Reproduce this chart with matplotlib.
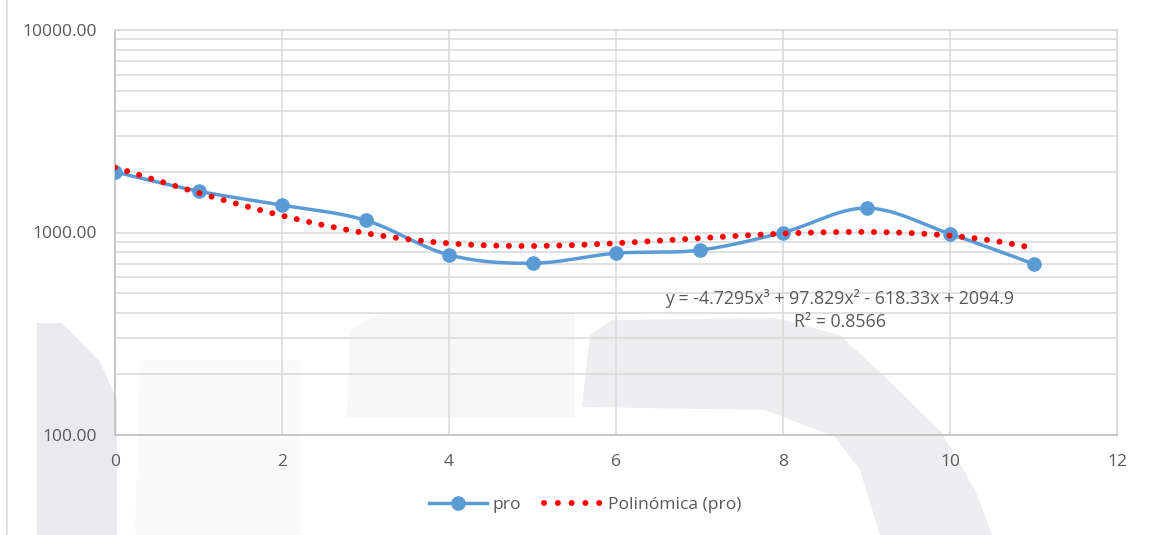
import numpy as np
import matplotlib
matplotlib.use("Agg")
import matplotlib.pyplot as plt
from matplotlib.patches import Polygon
from matplotlib.lines import Line2D

# measured series "pro"
x_pro = [0, 1, 2, 3, 4, 5, 6, 7, 8, 9, 10, 11]
y_pro = [1990, 1600, 1365, 1150, 775, 705, 790, 818, 1000, 1320, 985, 700]

# cubic trend fitted to "pro" (coefficients from highest power)
trend_coef = [-4.7295, 97.829, -618.33, 2094.9]
trend_r2 = 0.8566

x_ticks = [0, 2, 4, 6, 8, 10, 12]
y_ticks = [100, 1000, 10000]

BLUE = "#5B9BD5"
RED = "#FF0000"
GRID = "#D9D9D9"
TEXT = "#595959"
DOTS = (0, (0.01, 2.1))

plt.rcParams["font.family"] = ["Open Sans", "DejaVu Sans"]


def catmull_rom(xs, ys, n=30):
    # smooth curve through the points, like a spreadsheet "smoothed line"
    pts = np.column_stack([xs, ys]).astype(float)
    pts = np.vstack([pts[0], pts, pts[-1]])
    out = []
    for i in range(1, len(pts) - 2):
        p0, p1, p2, p3 = pts[i - 1], pts[i], pts[i + 1], pts[i + 2]
        t = np.linspace(0, 1, n, endpoint=False)[:, None]
        seg = 0.5 * ((2 * p1) + (-p0 + p2) * t
                     + (2 * p0 - 5 * p1 + 4 * p2 - p3) * t ** 2
                     + (-p0 + 3 * p1 - 3 * p2 + p3) * t ** 3)
        out.append(seg)
    out.append(pts[-2][None, :])
    return np.vstack(out)


fig = plt.figure(figsize=(11.51, 5.35), dpi=100)

# faint background shapes, pixel coordinates
bg = fig.add_axes([0, 0, 1, 1], zorder=0)
bg.set_xlim(0, 1151)
bg.set_ylim(535, 0)
bg.axis("off")
shapes = [
    ([(37, 535), (37, 323), (62, 323), (100, 362), (117, 400), (117, 535)], "#EAEAEE"),
    ([(347, 417), (350, 330), (380, 313), (575, 313), (575, 417)], "#F7F7F8"),
    ([(582, 407), (590, 335), (612, 320), (775, 318), (840, 335), (888, 380),
      (942, 433), (975, 490), (992, 535), (880, 535), (860, 470), (835, 437),
      (765, 410)], "#EEEEF1"),
    ([(135, 535), (140, 360), (300, 360), (300, 535)], "#FAFAFB"),
]
for verts, col in shapes:
    bg.add_patch(Polygon(verts, closed=True, facecolor=col, edgecolor="none"))
bg.plot([7, 7], [0, 535], color="#D9D9D9", lw=1.2)

ax = fig.add_axes([115 / 1151, 100 / 535, 1002 / 1151, 405 / 535], zorder=1)
ax.patch.set_alpha(0)
ax.set_yscale("log")
ax.set_xlim(0, 12)
ax.set_ylim(100, 10000)

ax.set_xticks(x_ticks)
ax.set_yticks(y_ticks)
ax.set_yticklabels([f"{v:.2f}" for v in y_ticks])
ax.yaxis.set_minor_locator(matplotlib.ticker.LogLocator(base=10, subs=np.arange(2, 10)))
ax.yaxis.set_minor_formatter(matplotlib.ticker.NullFormatter())
ax.tick_params(which="both", length=0, colors=TEXT, labelsize=12.5)
ax.tick_params(axis="x", pad=14)
ax.tick_params(axis="y", pad=13)

ax.grid(True, which="both", axis="y", color=GRID, lw=1.1)
ax.grid(True, which="major", axis="x", color=GRID, lw=1.1)
ax.set_axisbelow(True)
for name, sp in ax.spines.items():
    sp.set_color("#BFBFBF" if name in ("left", "bottom") else GRID)
    sp.set_linewidth(1.2)

# smoothed series, interpolated in log space
curve = catmull_rom(x_pro, np.log10(y_pro))
ax.plot(curve[:, 0], 10 ** curve[:, 1], color=BLUE, lw=2.5, zorder=3)
ax.plot(x_pro, y_pro, "o", color=BLUE, ms=9.5, zorder=4)

xt = np.linspace(x_pro[0], x_pro[-1], 400)
ax.plot(xt, np.polyval(trend_coef, xt), color=RED, lw=4.3,
        linestyle=DOTS, dash_capstyle="round", zorder=5)

a, b, c, d = trend_coef
eq = f"y = {a}x³ + {b}x² - {abs(c)}x + {d}\nR² = {trend_r2}"
ax.text(840, 310, eq, transform=bg.transData, ha="center", va="center",
        color=TEXT, fontsize=12.8, linespacing=1.35, zorder=6)

handles = [
    Line2D([], [], color=BLUE, lw=2.5, marker="o", ms=9.5),
    Line2D([], [], color=RED, lw=4.3, linestyle=(0, (0.01, 2.3)),
           dash_capstyle="round"),
]
fig.legend(handles, ["pro", "Polinómica (pro)"], loc="center",
           bbox_to_anchor=(585 / 1151, 1 - 505 / 535), ncol=2, frameon=False,
           fontsize=12.6, labelcolor=TEXT, handlelength=3.3, columnspacing=1.3,
           handletextpad=0.35)

fig.savefig("out.png", dpi=100)
